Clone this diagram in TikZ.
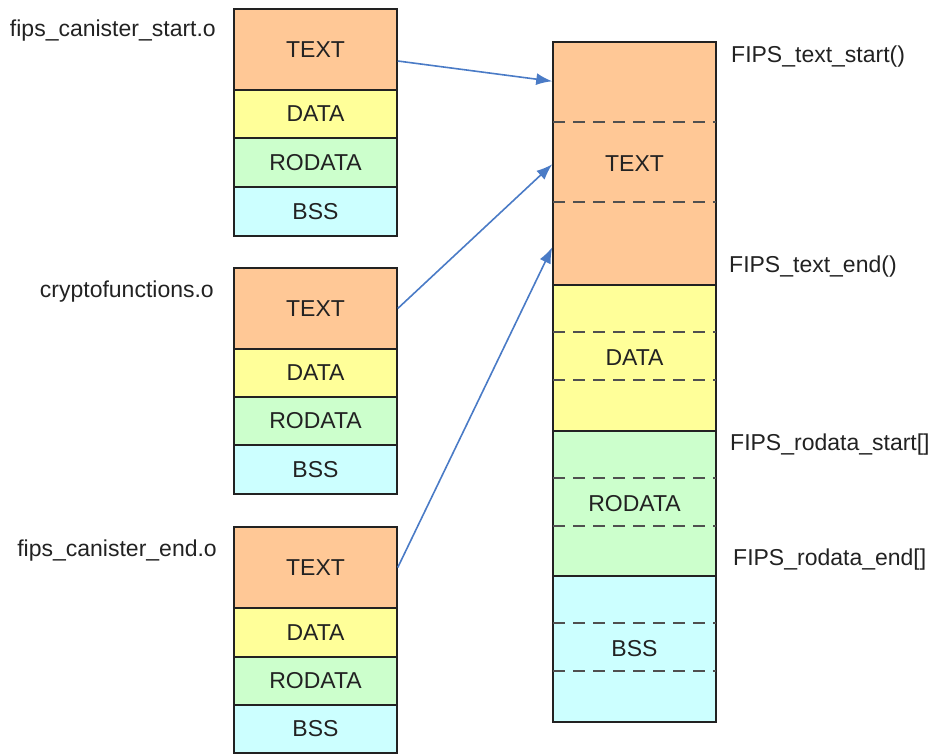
\documentclass[tikz,border=0pt]{standalone}
\usepackage{fontspec}
\setmainfont{Liberation Sans}
\usetikzlibrary{arrows.meta,calc}
\definecolor{textsec}{HTML}{FFC896}
\definecolor{datasec}{HTML}{FFFF99}
\definecolor{rodatasec}{HTML}{CCFFCC}
\definecolor{bsssec}{HTML}{CCFFFF}
\definecolor{linkblue}{HTML}{4A7BC6}
\definecolor{ink}{HTML}{222222}
\definecolor{divider}{HTML}{505050}
\begin{document}
\begin{tikzpicture}[x=1pt,y=-1pt,
  every node/.style={font=\fontsize{23}{27}\selectfont, text=ink},
  sect/.style={draw=ink, line width=1.5pt, rectangle, minimum width=163pt, inner sep=0pt, anchor=center},
  sectext/.style={sect, fill=textsec},
  secdata/.style={sect, fill=datasec},
  secrodata/.style={sect, fill=rodatasec},
  secbss/.style={sect, fill=bsssec},
  objname/.style={anchor=east, inner sep=0pt},
  symname/.style={anchor=west, inner sep=0pt},
  divline/.style={draw=divider, line width=2.4pt, dash pattern=on 12pt off 8pt},
  link/.style={draw=linkblue, line width=1.6pt, -{Latex[length=16pt,width=12pt]}}]
\useasboundingbox (0,0) rectangle (930,754);

% object file fips_canister_start.o
\node[sectext,   minimum height=81pt] (s1text)   at (315.5,49.5)  {TEXT};
\node[secdata,   minimum height=48pt] (s1data)   at (315.5,114)   {DATA};
\node[secrodata, minimum height=49pt] (s1rodata) at (315.5,162.5) {RODATA};
\node[secbss,    minimum height=49pt] (s1bss)    at (315.5,211.5) {BSS};
\node[objname] (s1name) at (216,31) {fips\_canister\_start.o};

% object file cryptofunctions.o
\node[sectext,   minimum height=81pt] (s2text)   at (315.5,308.5) {TEXT};
\node[secdata,   minimum height=48pt] (s2data)   at (315.5,373)   {DATA};
\node[secrodata, minimum height=48pt] (s2rodata) at (315.5,421)   {RODATA};
\node[secbss,    minimum height=49pt] (s2bss)    at (315.5,469.5) {BSS};
\node[objname] (s2name) at (214,292) {cryptofunctions.o};

% object file fips_canister_end.o
\node[sectext,   minimum height=81pt] (s3text)   at (315.5,567.5) {TEXT};
\node[secdata,   minimum height=49pt] (s3data)   at (315.5,632.5) {DATA};
\node[secrodata, minimum height=48pt] (s3rodata) at (315.5,681)   {RODATA};
\node[secbss,    minimum height=48pt] (s3bss)    at (315.5,729)   {BSS};
\node[objname] (s3name) at (217,551) {fips\_canister\_end.o};

% linked image
\node[sectext,   minimum height=243pt] (rtext)   at (634.5,163.5) {TEXT};
\node[secdata,   minimum height=146pt] (rdata)   at (634.5,358)   {DATA};
\node[secrodata, minimum height=145pt] (rrodata) at (634.5,503.5) {RODATA};
\node[secbss,    minimum height=146pt] (rbss)    at (634.5,649)   {BSS};

% sub-divisions inside each merged section
\foreach \n/\a/\b in {rtext/81/161, rdata/48/96, rrodata/48/96, rbss/48/96}{
  \draw[divline] ($(\n.north west)+(1,\a)$) -- ($(\n.north east)+(-1,\a)$);
  \draw[divline] ($(\n.north west)+(1,\b)$) -- ($(\n.north east)+(-1,\b)$);
}

% boundary symbols
\node[symname] (tstart) at (731,57)  {FIPS\_text\_start()};
\node[symname] (tend)   at (729,267) {FIPS\_text\_end()};
\node[symname] (rstart) at (730,445) {FIPS\_rodata\_start[]};
\node[symname] (rend)   at (733,560) {FIPS\_rodata\_end[]};

% each TEXT section lands in its own part of the merged TEXT
\draw[link] ($(s1text.east)+(0,11.5)$) -- ($(rtext.north west)+(0,40)$);
\draw[link] (s2text.east) -- ($(rtext.north west)+(0,123)$);
\draw[link] (s3text.east) -- ($(rtext.north west)+(0,206)$);
\end{tikzpicture}
\end{document}
